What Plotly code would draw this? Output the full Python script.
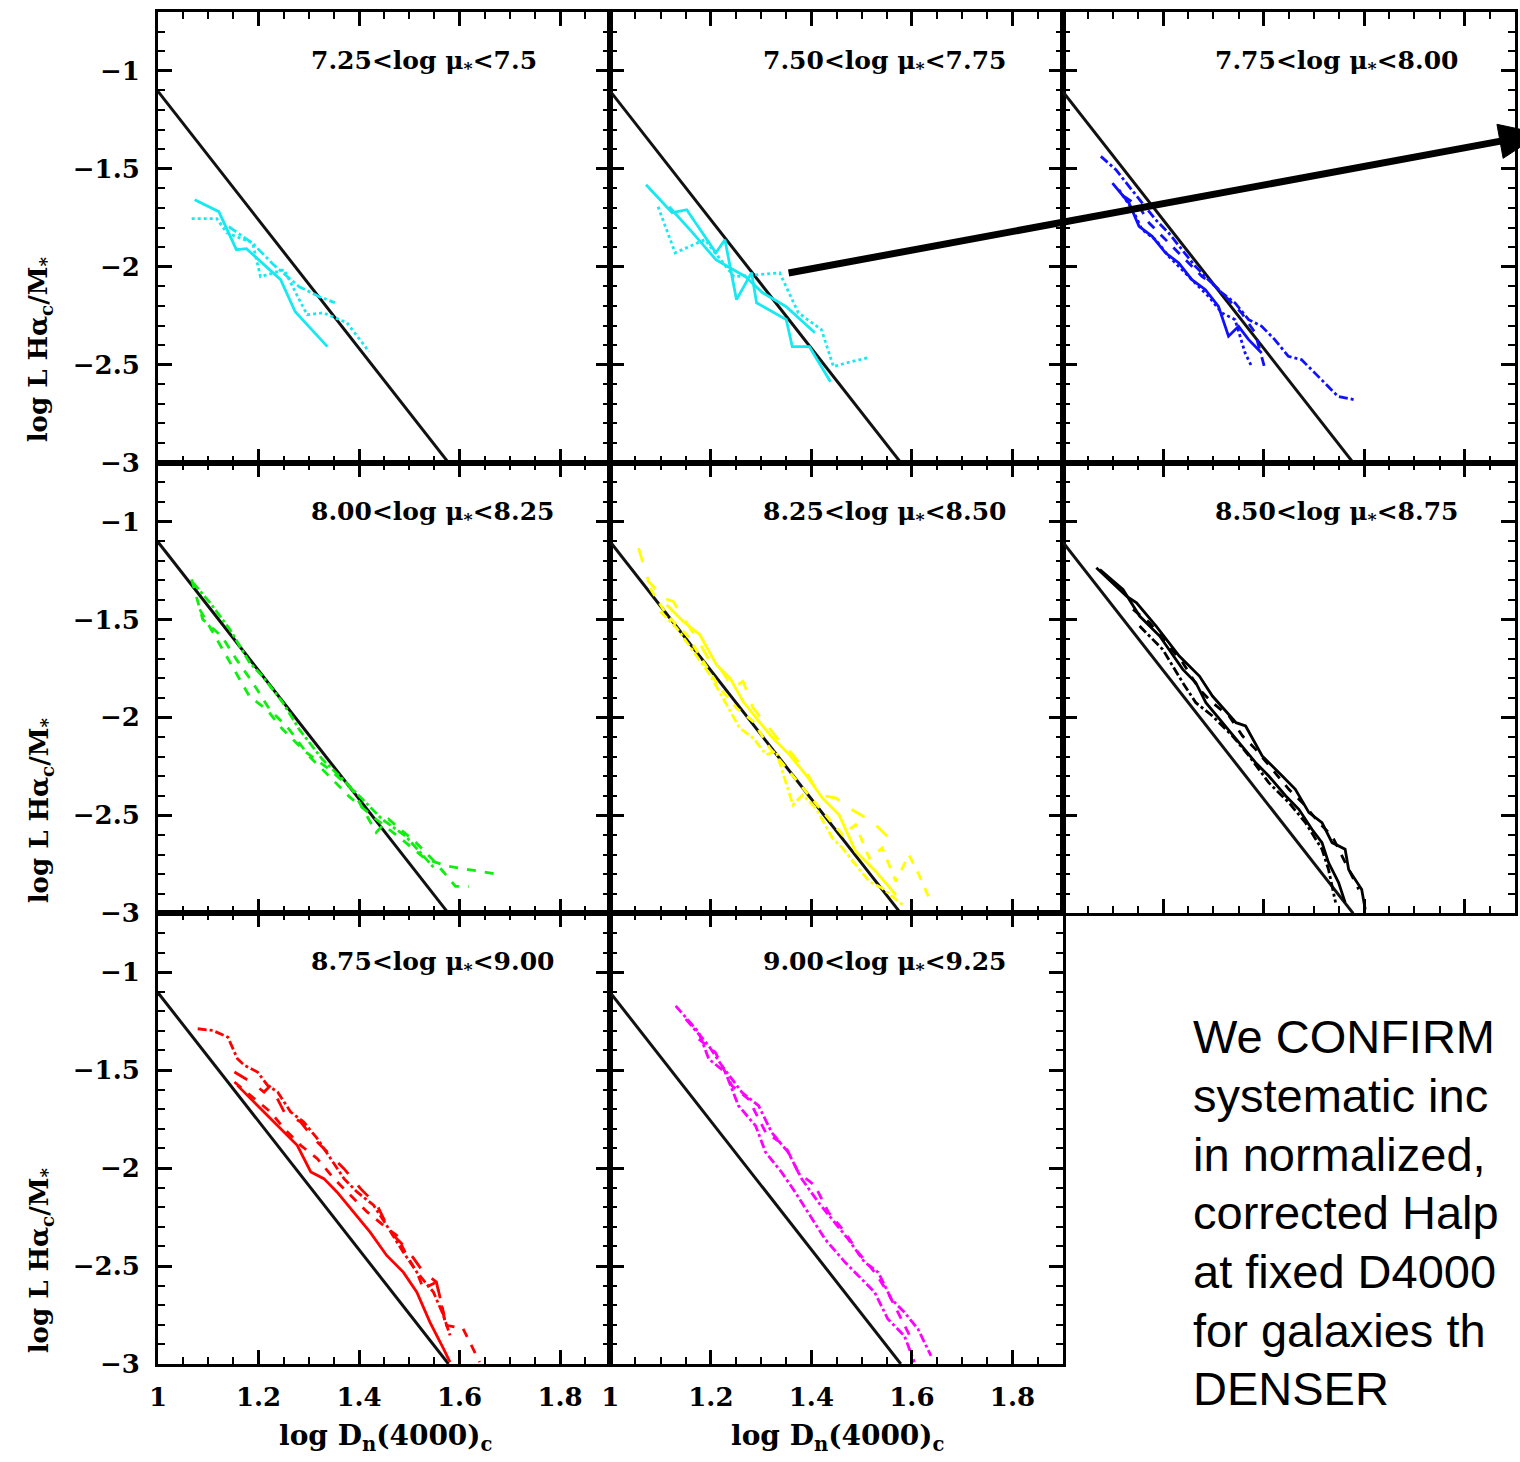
import plotly.graph_objects as go

# ---------------- data ----------------
panel_titles = [
    "7.25&lt;log μ<sub>*</sub>&lt;7.5",
    "7.50&lt;log μ<sub>*</sub>&lt;7.75",
    "7.75&lt;log μ<sub>*</sub>&lt;8.00",
    "8.00&lt;log μ<sub>*</sub>&lt;8.25",
    "8.25&lt;log μ<sub>*</sub>&lt;8.50",
    "8.50&lt;log μ<sub>*</sub>&lt;8.75",
    "8.75&lt;log μ<sub>*</sub>&lt;9.00",
    "9.00&lt;log μ<sub>*</sub>&lt;9.25",
]
panel_colors = ["#18e8f0", "#18e8f0", "#1010ff", "#10ee10", "#ffff00", "#000000", "#ff0000", "#ff00ff"]

# reference relation (black straight line in every panel)
ref_x = [1.0, 1.578]
ref_y = [-1.105, -3.0]

# panel 1 (cyan)
p1_solid_x = [1.073, 1.121, 1.156, 1.176, 1.244, 1.273, 1.337]
p1_solid_y = [-1.658, -1.719, -1.913, -1.908, -2.066, -2.230, -2.408]
p1_dot_x = [1.067, 1.117, 1.137, 1.188, 1.204, 1.251, 1.281, 1.297, 1.329, 1.376, 1.420]
p1_dot_y = [-1.755, -1.755, -1.827, -1.878, -2.051, -2.015, -2.168, -2.245, -2.235, -2.286, -2.434]
p1_dashdot_x = [1.141, 1.188, 1.230, 1.281, 1.321, 1.352]
p1_dashdot_y = [-1.796, -1.880, -1.990, -2.102, -2.153, -2.184]

# panel 2 (cyan)
p2_solid_a_x = [1.071, 1.123, 1.152, 1.210, 1.228, 1.251, 1.281, 1.291, 1.350, 1.362, 1.396, 1.438]
p2_solid_a_y = [-1.582, -1.724, -1.709, -1.929, -1.862, -2.168, -2.031, -2.184, -2.270, -2.408, -2.408, -2.587]
p2_solid_b_x = [1.117, 1.164, 1.210, 1.269, 1.303, 1.350, 1.407]
p2_solid_b_y = [-1.694, -1.827, -1.964, -2.051, -2.133, -2.204, -2.337]
p2_dot_x = [1.095, 1.129, 1.188, 1.246, 1.337, 1.374, 1.420, 1.444, 1.471, 1.513]
p2_dot_y = [-1.694, -1.929, -1.862, -2.051, -2.031, -2.235, -2.321, -2.510, -2.490, -2.464]

# panel 3 (blue)
p3_dashdot_x = [1.076, 1.106, 1.132, 1.158, 1.185, 1.211, 1.238, 1.264, 1.290, 1.317, 1.343, 1.370,
                1.396, 1.422, 1.449, 1.475, 1.502, 1.528, 1.548, 1.581]
p3_dashdot_y = [-1.437, -1.505, -1.590, -1.675, -1.760, -1.828, -1.913, -1.998, -2.066, -2.134, -2.185, -2.270,
                -2.304, -2.372, -2.457, -2.474, -2.543, -2.611, -2.662, -2.679]
p3_solid_x = [1.099, 1.132, 1.152, 1.178, 1.205, 1.231, 1.257, 1.284, 1.310, 1.330, 1.350, 1.370, 1.396]
p3_solid_y = [-1.573, -1.675, -1.794, -1.845, -1.930, -1.981, -2.066, -2.117, -2.202, -2.355, -2.304, -2.372, -2.440]
p3_dot_x = [1.112, 1.139, 1.158, 1.185, 1.211, 1.238, 1.264, 1.290, 1.317, 1.343, 1.363, 1.376]
p3_dot_y = [-1.607, -1.709, -1.811, -1.862, -1.947, -2.015, -2.083, -2.151, -2.236, -2.270, -2.440, -2.509]
p3_dash_x = [1.122, 1.152, 1.172, 1.198, 1.224, 1.251, 1.277, 1.304, 1.330, 1.356, 1.383, 1.403]
p3_dash_y = [-1.641, -1.692, -1.777, -1.845, -1.913, -1.981, -2.049, -2.100, -2.168, -2.236, -2.338, -2.526]

# panel 4 (green)
p4_dash_a_x = [1.067, 1.089, 1.127, 1.156, 1.188, 1.222, 1.261, 1.301, 1.341, 1.380, 1.434, 1.485, 1.533, 1.578, 1.677]
p4_dash_a_y = [-1.296, -1.500, -1.587, -1.704, -1.821, -1.959, -2.061, -2.199, -2.301, -2.403, -2.520, -2.622, -2.724, -2.760, -2.801]
p4_dashdot_x = [1.069, 1.103, 1.143, 1.182, 1.208, 1.248, 1.281, 1.327, 1.374, 1.414, 1.446, 1.493, 1.533, 1.552]
p4_dashdot_y = [-1.311, -1.413, -1.551, -1.719, -1.791, -1.923, -2.061, -2.214, -2.332, -2.434, -2.520, -2.607, -2.724, -2.776]
p4_dash_b_x = [1.083, 1.182, 1.216, 1.248, 1.295, 1.341, 1.386, 1.434, 1.459, 1.513, 1.552, 1.592, 1.618]
p4_dash_b_y = [-1.449, -1.893, -1.959, -2.061, -2.179, -2.265, -2.367, -2.587, -2.520, -2.638, -2.740, -2.862, -2.862]

# panel 5 (yellow)
p5_longdash_x = [1.056, 1.076, 1.106, 1.125, 1.145, 1.172, 1.198, 1.218, 1.244, 1.264, 1.284, 1.310, 1.337,
                 1.363, 1.389, 1.416, 1.449, 1.475, 1.521, 1.561]
p5_longdash_y = [-1.136, -1.306, -1.391, -1.408, -1.493, -1.595, -1.714, -1.748, -1.850, -1.816, -1.952, -2.037, -2.122,
                 -2.190, -2.276, -2.395, -2.412, -2.463, -2.531, -2.633]
p5_dash_x = [1.079, 1.112, 1.152, 1.185, 1.218, 1.251, 1.284, 1.317, 1.350, 1.383, 1.422, 1.462, 1.488, 1.515,
             1.541, 1.568, 1.594, 1.614, 1.640]
p5_dash_y = [-1.340, -1.476, -1.578, -1.714, -1.850, -1.952, -2.020, -2.156, -2.259, -2.361, -2.480, -2.599, -2.548,
             -2.718, -2.667, -2.837, -2.701, -2.803, -2.956]
p5_dashdot_x = [1.099, 1.132, 1.165, 1.198, 1.224, 1.257, 1.284, 1.310, 1.330, 1.363, 1.383, 1.409, 1.442, 1.462,
                1.488, 1.515, 1.541, 1.581]
p5_dashdot_y = [-1.459, -1.544, -1.663, -1.782, -1.901, -2.054, -2.105, -2.190, -2.173, -2.446, -2.395, -2.463, -2.616,
                -2.667, -2.752, -2.837, -2.871, -2.956]
p5_solid_x = [1.112, 1.145, 1.178, 1.211, 1.238, 1.264, 1.290, 1.323, 1.356, 1.389, 1.422, 1.455, 1.488, 1.528, 1.568]
p5_solid_y = [-1.425, -1.510, -1.578, -1.731, -1.799, -1.918, -2.003, -2.105, -2.190, -2.293, -2.412, -2.497, -2.684,
              -2.786, -2.905]

# panel 6 (black)
p6_solid_a_x = [1.067, 1.127, 1.147, 1.186, 1.232, 1.272, 1.298, 1.345, 1.364, 1.397, 1.437, 1.463, 1.490, 1.516,
                1.536, 1.562, 1.569, 1.595, 1.602]
p6_solid_a_y = [-1.236, -1.381, -1.415, -1.534, -1.687, -1.789, -1.891, -2.027, -2.044, -2.197, -2.299, -2.367, -2.486,
                -2.537, -2.639, -2.673, -2.776, -2.878, -2.980]
p6_solid_b_x = [1.074, 1.120, 1.153, 1.193, 1.239, 1.265, 1.285, 1.318, 1.351, 1.384, 1.410, 1.444, 1.470, 1.496,
                1.516, 1.529, 1.549, 1.562]
p6_solid_b_y = [-1.245, -1.347, -1.483, -1.585, -1.755, -1.823, -1.925, -2.027, -2.129, -2.231, -2.299, -2.401, -2.469,
                -2.571, -2.639, -2.741, -2.843, -2.945]
p6_dash_x = [1.140, 1.173, 1.206, 1.239, 1.272, 1.298, 1.331, 1.358, 1.384, 1.417, 1.450, 1.477, 1.510, 1.536,
             1.569, 1.589]
p6_dash_y = [-1.449, -1.517, -1.619, -1.721, -1.857, -1.925, -1.993, -2.095, -2.163, -2.265, -2.367, -2.435, -2.537,
             -2.605, -2.776, -2.878]
p6_dashdot_x = [1.153, 1.199, 1.239, 1.265, 1.298, 1.338, 1.371, 1.410, 1.450, 1.483, 1.516, 1.529, 1.543]
p6_dashdot_y = [-1.534, -1.653, -1.823, -1.925, -1.993, -2.095, -2.197, -2.333, -2.435, -2.537, -2.673, -2.776, -2.945]

# panel 7 (red)
p7_dashdot_x = [1.079, 1.109, 1.139, 1.158, 1.172, 1.198, 1.218, 1.238, 1.264, 1.290, 1.317, 1.343, 1.370, 1.396,
                1.429, 1.455, 1.488, 1.515, 1.548, 1.568, 1.581]
p7_dashdot_y = [-1.289, -1.298, -1.332, -1.442, -1.476, -1.510, -1.578, -1.612, -1.714, -1.765, -1.850, -1.952, -2.054,
                -2.122, -2.190, -2.293, -2.429, -2.531, -2.633, -2.752, -2.854]
p7_longdash_x = [1.152, 1.185, 1.211, 1.224, 1.251, 1.284, 1.310, 1.337, 1.370, 1.403, 1.436, 1.462, 1.495, 1.528,
                 1.554, 1.574]
p7_longdash_y = [-1.510, -1.561, -1.612, -1.578, -1.714, -1.765, -1.850, -1.918, -2.003, -2.105, -2.190, -2.327, -2.412,
                 -2.531, -2.582, -2.820]
p7_dash_x = [1.152, 1.191, 1.224, 1.251, 1.284, 1.317, 1.350, 1.383, 1.416, 1.449, 1.475, 1.495, 1.515, 1.528, 1.554,
             1.574, 1.607, 1.640]
p7_dash_y = [-1.561, -1.646, -1.714, -1.799, -1.884, -1.952, -2.054, -2.139, -2.224, -2.293, -2.344, -2.446, -2.531,
             -2.616, -2.582, -2.803, -2.820, -2.990]
p7_solid_x = [1.158, 1.198, 1.224, 1.251, 1.277, 1.304, 1.330, 1.356, 1.389, 1.422, 1.455, 1.488, 1.515, 1.541, 1.568, 1.581]
p7_solid_y = [-1.578, -1.680, -1.748, -1.816, -1.884, -2.020, -2.054, -2.122, -2.224, -2.327, -2.446, -2.531, -2.633,
              -2.786, -2.922, -2.990]

# panel 8 (magenta)
p8_dashdot_a_x = [1.130, 1.176, 1.196, 1.229, 1.255, 1.289, 1.309, 1.341, 1.368, 1.401, 1.427, 1.467, 1.500, 1.526,
                  1.552, 1.585, 1.605]
p8_dashdot_a_y = [-1.172, -1.308, -1.444, -1.512, -1.682, -1.784, -1.920, -2.022, -2.124, -2.260, -2.362, -2.481, -2.566,
                  -2.634, -2.770, -2.856, -2.991]
p8_dashdot_b_x = [1.150, 1.196, 1.222, 1.262, 1.295, 1.321, 1.354, 1.381, 1.414, 1.440, 1.473, 1.506, 1.533, 1.559,
                  1.585, 1.612, 1.638]
p8_dashdot_b_y = [-1.240, -1.376, -1.478, -1.614, -1.682, -1.818, -1.920, -2.056, -2.175, -2.260, -2.362, -2.481, -2.532,
                  -2.668, -2.736, -2.821, -2.958]
p8_dash_x = [1.176, 1.209, 1.242, 1.275, 1.309, 1.348, 1.374, 1.407, 1.434, 1.467, 1.493, 1.526, 1.552, 1.572, 1.599]
p8_dash_y = [-1.342, -1.410, -1.580, -1.648, -1.818, -1.886, -2.022, -2.090, -2.226, -2.328, -2.430, -2.532, -2.634,
             -2.736, -2.872]

panel_lines = [
    [(p1_solid_x, p1_solid_y, "solid"), (p1_dot_x, p1_dot_y, "dot"), (p1_dashdot_x, p1_dashdot_y, "dashdot")],
    [(p2_solid_a_x, p2_solid_a_y, "solid"), (p2_solid_b_x, p2_solid_b_y, "solid"), (p2_dot_x, p2_dot_y, "dot")],
    [(p3_dashdot_x, p3_dashdot_y, "dashdot"), (p3_solid_x, p3_solid_y, "solid"), (p3_dot_x, p3_dot_y, "dot"),
     (p3_dash_x, p3_dash_y, "dash")],
    [(p4_dash_a_x, p4_dash_a_y, "dash"), (p4_dashdot_x, p4_dashdot_y, "dashdot"), (p4_dash_b_x, p4_dash_b_y, "dash")],
    [(p5_longdash_x, p5_longdash_y, "longdash"), (p5_dash_x, p5_dash_y, "dash"),
     (p5_dashdot_x, p5_dashdot_y, "dashdot"), (p5_solid_x, p5_solid_y, "solid")],
    [(p6_solid_a_x, p6_solid_a_y, "solid"), (p6_solid_b_x, p6_solid_b_y, "solid"), (p6_dash_x, p6_dash_y, "dash"),
     (p6_dashdot_x, p6_dashdot_y, "dashdot")],
    [(p7_dashdot_x, p7_dashdot_y, "dashdot"), (p7_longdash_x, p7_longdash_y, "longdash"),
     (p7_dash_x, p7_dash_y, "dash"), (p7_solid_x, p7_solid_y, "solid")],
    [(p8_dashdot_a_x, p8_dashdot_a_y, "dashdot"), (p8_dashdot_b_x, p8_dashdot_b_y, "dashdot"),
     (p8_dash_x, p8_dash_y, "dash")],
]

x_range = [1.0, 1.9]
y_range = [-3.0, -0.7]
x_title = "log D<sub>n</sub>(4000)<sub>c</sub>"
y_title = "log L Hα<sub>c</sub>/M<sub>*</sub>"
# the note as far as it is visible in the (cropped) reference
note_lines = ["We CONFIRM", "systematic inc", "in normalized,", "corrected Halp",
              "at fixed D4000", "for galaxies th", "DENSER"]

# ---------------- layout ----------------
W, H = 1520, 1462
ML, MR, MT, MB = 158, 2, 12, 98
PW, PH = W - ML - MR, H - MT - MB


def px_x(px):
    return (px - ML) / PW


def px_y(py):
    return 1 - (py - MT) / PH


positions = [(0, 0), (0, 1), (0, 2), (1, 0), (1, 1), (1, 2), (2, 0), (2, 1)]
serif = "DejaVu Serif"

fig = go.Figure()
layout = dict(
    width=W, height=H, margin=dict(l=ML, r=MR, t=MT, b=MB),
    paper_bgcolor="white", plot_bgcolor="white", showlegend=False,
    hovermode=False,
)

annotations = []
for i, (r, c) in enumerate(positions):
    n = i + 1
    xa = "xaxis" if n == 1 else f"xaxis{n}"
    ya = "yaxis" if n == 1 else f"yaxis{n}"
    xr = "x" if n == 1 else f"x{n}"
    yr = "y" if n == 1 else f"y{n}"
    common = dict(
        showline=True, linewidth=3, linecolor="black", mirror="ticks",
        ticks="inside", ticklen=14, tickwidth=2.5, tickcolor="black",
        showgrid=False, zeroline=False,
        tickfont=dict(family=serif, size=26, color="black", weight="bold"),
    )
    layout[xa] = dict(
        common, domain=[c / 3, (c + 1) / 3], range=x_range, anchor=yr,
        tick0=1.0, dtick=0.2,
        minor=dict(ticks="inside", ticklen=7, tickwidth=2, tickcolor="black", dtick=0.05),
        showticklabels=(r == 2), ticklabelstandoff=8,
    )
    layout[ya] = dict(
        common, domain=[1 - (r + 1) / 3, 1 - r / 3], range=y_range, anchor=xr,
        tick0=-3.0, dtick=0.5,
        minor=dict(ticks="inside", ticklen=7, tickwidth=2, tickcolor="black", dtick=0.1),
        showticklabels=(c == 0), ticklabelstandoff=10,
    )
    # reference relation
    fig.add_trace(go.Scatter(x=ref_x, y=ref_y, mode="lines", xaxis=xr, yaxis=yr,
                             line=dict(color="#111111", width=3)))
    for lx, ly, dash in panel_lines[i]:
        fig.add_trace(go.Scatter(x=lx, y=ly, mode="lines", xaxis=xr, yaxis=yr,
                                 line=dict(color=panel_colors[i], width=2.8, dash=dash)))
    annotations.append(dict(
        text=panel_titles[i], x=1.30, y=-0.955, xref=xr, yref=yr,
        xanchor="left", yanchor="middle", showarrow=False,
        font=dict(family=serif, size=25, color="black", weight="bold"),
    ))

# y-axis titles (one per row)
for py in [349, 810, 1260]:
    annotations.append(dict(
        text=y_title, x=px_x(40), y=px_y(py), xref="paper", yref="paper",
        xanchor="center", yanchor="middle", showarrow=False, textangle=-90,
        font=dict(family=serif, size=26, color="black", weight="bold"),
    ))
# x-axis titles (bottom of first two columns)
for px in [387, 840]:
    annotations.append(dict(
        text=x_title, x=px_x(px), y=px_y(1438), xref="paper", yref="paper",
        xanchor="center", yanchor="middle", showarrow=False,
        font=dict(family=serif, size=28, color="black", weight="bold"),
    ))
# note text, one annotation per line at the reference baselines
note_size = 47
for k, line in enumerate(note_lines):
    baseline = 1053 + 58.7 * k
    annotations.append(dict(
        text=line, x=px_x(1194), y=px_y(baseline - 0.93 * note_size), xref="paper", yref="paper",
        xanchor="left", yanchor="top", align="left", showarrow=False, borderpad=0,
        font=dict(family="Liberation Sans", size=note_size, color="black"),
    ))
layout["annotations"] = annotations

# arrow (decoration)
x0, y0 = 790, 273
tipx, tipy = 1544, 133.7
bx, by = 1503, 141.3
layout["shapes"] = [
    dict(type="line", xref="paper", yref="paper", x0=px_x(x0), y0=px_y(y0), x1=px_x(bx + 2), y1=px_y(by - 0.4),
         line=dict(color="black", width=7)),
    dict(type="path", xref="paper", yref="paper",
         path=(f"M {px_x(tipx)} {px_y(tipy)} L {px_x(bx + 3.1)} {px_y(by + 17)} "
               f"L {px_x(bx - 3.1)} {px_y(by - 17)} Z"),
         fillcolor="black", line=dict(color="black", width=1)),
]

fig.update_layout(**layout)
fig.write_html("out.html")
